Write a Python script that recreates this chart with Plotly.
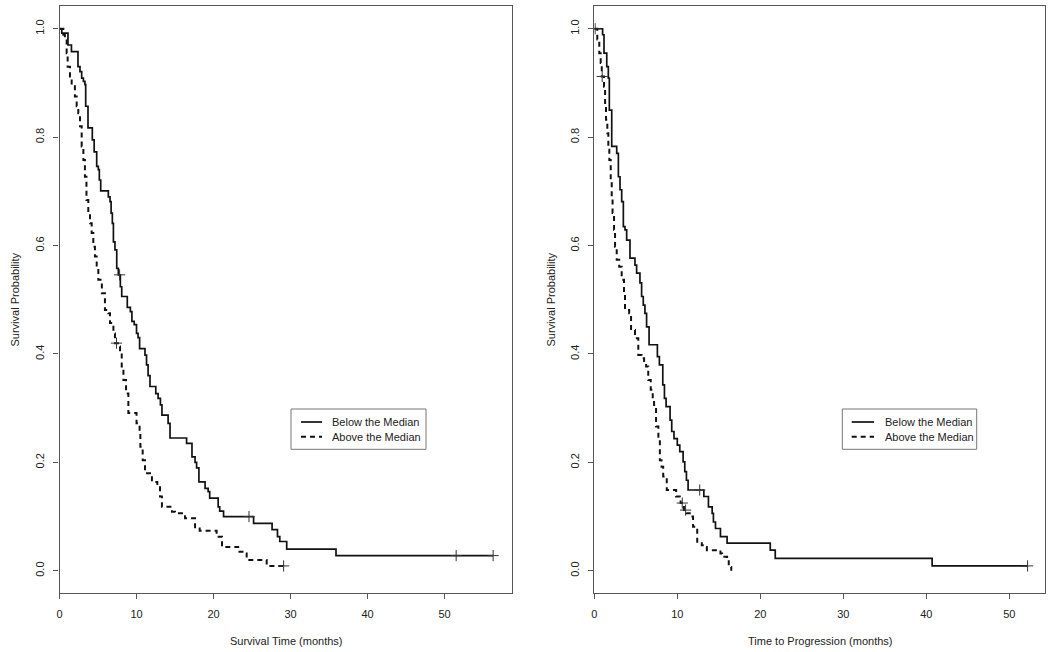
import plotly.graph_objects as go

# ---------------- data ----------------
# Left panel: overall survival, Kaplan-Meier step points (time in months, survival)
os_below_time = [0, 0.3, 1.1, 1.55, 2.4, 2.66, 2.88, 3.1, 3.3, 3.4, 3.7, 4.26, 4.5, 4.83, 5.04, 5.17,
                 5.35, 6.34, 6.56, 6.7, 6.86, 7.0, 7.2, 7.43, 7.64, 7.9, 8.08, 8.8, 9.2, 9.4, 9.7,
                 10.0, 10.2, 10.4, 11.1, 11.3, 11.5, 11.75, 12.5, 12.8, 13.1, 13.3, 14.1, 14.35,
                 16.5, 17.2, 17.6, 17.8, 18.1, 18.9, 19.3, 19.5, 20.6, 20.8, 21.3, 25.2, 27.6,
                 28.3, 28.6, 29.5, 35.9, 56.3]
os_below_surv = [1.0, 0.992, 0.97, 0.958, 0.93, 0.921, 0.909, 0.903, 0.897, 0.857, 0.817, 0.795,
                 0.773, 0.746, 0.74, 0.721, 0.701, 0.69, 0.681, 0.66, 0.641, 0.607, 0.592, 0.558,
                 0.546, 0.524, 0.506, 0.486, 0.478, 0.46, 0.454, 0.438, 0.43, 0.41, 0.398, 0.38,
                 0.36, 0.34, 0.327, 0.318, 0.306, 0.287, 0.272, 0.245, 0.235, 0.21, 0.2, 0.19,
                 0.164, 0.152, 0.146, 0.134, 0.118, 0.11, 0.1, 0.0875, 0.076, 0.063, 0.054, 0.04,
                 0.028, 0.028]
os_below_cens_time = [7.8, 24.6, 51.5, 56.3]
os_below_cens_surv = [0.546, 0.1, 0.028, 0.028]

os_above_time = [0, 0.5, 0.7, 0.93, 1.06, 1.36, 1.58, 2.0, 2.23, 2.44, 2.66, 2.88, 3.1, 3.3, 3.5,
                 3.74, 3.96, 4.18, 4.39, 4.6, 4.83, 5.04, 5.5, 5.9, 6.34, 6.56, 7.0, 7.2, 7.6, 7.86,
                 8.08, 8.3, 8.64, 8.94, 10.0, 10.4, 10.5, 10.8, 11.1, 12.0, 12.7, 13.05, 13.3, 14.6,
                 15.0, 16.3, 17.6, 18.2, 20.4, 21.1, 23.2, 23.9, 24.3, 26.9, 29.1]
os_above_surv = [1.0, 0.989, 0.98, 0.955, 0.93, 0.912, 0.897, 0.875, 0.857, 0.844, 0.82, 0.783,
                 0.758, 0.727, 0.684, 0.66, 0.641, 0.623, 0.598, 0.58, 0.561, 0.537, 0.512, 0.481,
                 0.475, 0.457, 0.438, 0.42, 0.414, 0.401, 0.377, 0.352, 0.327, 0.291, 0.272, 0.254,
                 0.229, 0.204, 0.18, 0.164, 0.158, 0.137, 0.118, 0.109, 0.106, 0.097, 0.078, 0.074,
                 0.063, 0.044, 0.035, 0.032, 0.02, 0.009, 0.009]
os_above_cens_time = [7.4, 29.1]
os_above_cens_surv = [0.42, 0.009]

# Right panel: time to progression
ttp_below_time = [0, 1.0, 1.17, 1.5, 1.69, 1.81, 2.1, 2.7, 2.9, 3.1, 3.3, 3.5, 3.7, 3.9, 4.3, 4.9,
                  5.1, 5.5, 5.7, 5.9, 6.1, 6.3, 6.6, 7.6, 7.84, 8.25, 8.45, 8.65, 9.13, 9.33, 9.6,
                  10.0, 10.3, 10.7, 10.9, 11.1, 11.3, 13.2, 13.75, 14.2, 14.35, 14.6, 15.2, 16.0,
                  21.2, 21.8, 40.7, 52.2]
ttp_below_surv = [1.0, 0.989, 0.955, 0.93, 0.909, 0.85, 0.783, 0.77, 0.727, 0.703, 0.681, 0.635,
                  0.629, 0.61, 0.577, 0.564, 0.549, 0.531, 0.506, 0.49, 0.475, 0.45, 0.417, 0.395,
                  0.38, 0.343, 0.318, 0.303, 0.278, 0.257, 0.244, 0.232, 0.22, 0.201, 0.183, 0.167,
                  0.149, 0.137, 0.118, 0.106, 0.09, 0.078, 0.063, 0.051, 0.038, 0.023, 0.009, 0.009]
ttp_below_cens_time = [0.1, 12.7, 52.2]
ttp_below_cens_surv = [1.0, 0.149, 0.009]

ttp_above_time = [0, 0.36, 0.6, 0.77, 0.9, 1.17, 1.3, 1.41, 1.57, 1.69, 1.81, 1.98, 2.1, 2.2, 2.38,
                  2.5, 2.7, 3.0, 3.3, 3.58, 3.7, 4.2, 4.43, 4.9, 5.3, 5.7, 6.0, 6.24, 6.5, 6.8, 7.04,
                  7.2, 7.44, 7.72, 7.9, 8.1, 8.3, 8.73, 9.86, 10.3, 10.4, 10.8, 11.1, 11.5, 11.9,
                  12.4, 12.95, 13.35, 13.56, 15.2, 15.4, 16.0, 16.2, 16.5]
ttp_above_surv = [1.0, 0.98, 0.955, 0.937, 0.912, 0.893, 0.857, 0.832, 0.807, 0.777, 0.758, 0.721,
                  0.69, 0.66, 0.629, 0.598, 0.574, 0.561, 0.537, 0.512, 0.481, 0.475, 0.444, 0.429,
                  0.398, 0.392, 0.383, 0.377, 0.352, 0.334, 0.318, 0.306, 0.266, 0.241, 0.204,
                  0.192, 0.174, 0.149, 0.137, 0.13, 0.125, 0.112, 0.106, 0.1, 0.081, 0.051, 0.047,
                  0.044, 0.038, 0.032, 0.026, 0.023, 0.007, 0.0]
ttp_above_cens_time = [0.95, 10.6, 11.0]
ttp_above_cens_surv = [0.912, 0.125, 0.112]

y_ticks = [0.0, 0.2, 0.4, 0.6, 0.8, 1.0]
y_tick_labels = ["0.0", "0.2", "0.4", "0.6", "0.8", "1.0"]
x_ticks = [0, 10, 20, 30, 40, 50]
legend_labels = ["Below the Median", "Above the Median"]
x_titles = ["Survival Time (months)", "Time to Progression (months)"]
y_title = "Survival Probability"

# ---------------- styling / layout ----------------
W, H = 1050, 652
FONT = "Liberation Sans, Arial, Helvetica, sans-serif"
TXT = "#222222"
BOX = "#555555"

def fx(p):
    return p / W

def fy(p):
    return 1 - p / H

fig = go.Figure()

solid = dict(shape="hv", color="#111111", width=1.7)
dashed = dict(shape="hv", color="#111111", width=2.0, dash="5px,4px")
cens = dict(symbol="cross-thin", size=8, line=dict(width=1, color="#333333"), color="#333333")

panels = [
    ("x", "y", os_below_time, os_below_surv, os_below_cens_time, os_below_cens_surv,
     os_above_time, os_above_surv, os_above_cens_time, os_above_cens_surv),
    ("x2", "y2", ttp_below_time, ttp_below_surv, ttp_below_cens_time, ttp_below_cens_surv,
     ttp_above_time, ttp_above_surv, ttp_above_cens_time, ttp_above_cens_surv),
]
for xa, ya, bt, bs, bct, bcs, at, as_, act, acs in panels:
    fig.add_trace(go.Scatter(x=at, y=as_, mode="lines", line=dashed, xaxis=xa, yaxis=ya,
                             name=legend_labels[1], showlegend=False, hoverinfo="skip"))
    fig.add_trace(go.Scatter(x=act, y=acs, mode="markers", marker=cens, xaxis=xa, yaxis=ya,
                             showlegend=False, hoverinfo="skip"))
    fig.add_trace(go.Scatter(x=bt, y=bs, mode="lines", line=solid, xaxis=xa, yaxis=ya,
                             name=legend_labels[0], showlegend=False, hoverinfo="skip"))
    fig.add_trace(go.Scatter(x=bct, y=bcs, mode="markers", marker=cens, xaxis=xa, yaxis=ya,
                             showlegend=False, hoverinfo="skip"))

common_x = dict(showgrid=False, zeroline=False, showline=True, mirror=True, linecolor=BOX,
                linewidth=1.2, ticks="outside", ticklen=5, tickcolor=BOX, tickwidth=1,
                tickvals=x_ticks, tickfont=dict(size=11, color=TXT, family=FONT),
                automargin=False, ticklabelstandoff=6)
common_y = dict(showgrid=False, zeroline=False, showline=True, mirror=True, linecolor=BOX,
                linewidth=1.2, ticks="outside", ticklen=5, tickcolor=BOX, tickwidth=1,
                tickvals=y_ticks, ticktext=y_tick_labels, tickangle=-90,
                tickfont=dict(size=11, color=TXT, family=FONT), automargin=False,
                ticklabelstandoff=5,
                range=[-0.041, 1.042], domain=[fy(593), fy(6)])

fig.update_layout(
    width=W, height=H,
    margin=dict(l=0, r=0, t=0, b=0),
    paper_bgcolor="white", plot_bgcolor="white",
    font=dict(family=FONT, size=11, color=TXT),
    showlegend=False,
    xaxis=dict(common_x, domain=[fx(59.5), fx(512)], range=[0, 58.75], anchor="y"),
    yaxis=dict(common_y, anchor="x"),
    xaxis2=dict(common_x, domain=[fx(594.3), fx(1045)], range=[0, 54.3], anchor="y2"),
    yaxis2=dict(common_y, anchor="x2"),
)

# axis titles
for cx, lab in [(286, x_titles[0]), (819.7, x_titles[1])]:
    fig.add_annotation(text=lab, x=fx(cx), y=fy(641), xref="paper", yref="paper",
                       showarrow=False, xanchor="center", yanchor="middle",
                       font=dict(size=11, color=TXT, family=FONT))
for cx in [14, 550]:
    fig.add_annotation(text=y_title, x=fx(cx), y=fy(299.5), xref="paper", yref="paper",
                       showarrow=False, textangle=-90, xanchor="center", yanchor="middle",
                       font=dict(size=11, color=TXT, family=FONT))

# legends (drawn as boxes with line samples and labels)
for bx0, bx1, lx0, lx1, tx in [(291, 426, 301, 322, 330), (842.3, 976.7, 851.7, 874, 883)]:
    fig.add_shape(type="rect", xref="paper", yref="paper", x0=fx(bx0), x1=fx(bx1),
                  y0=fy(449.3), y1=fy(409), line=dict(color="#777777", width=1),
                  fillcolor="white")
    for ly, dash, lab in [(422, "solid", legend_labels[0]), (436.7, "5px,4px", legend_labels[1])]:
        fig.add_shape(type="line", xref="paper", yref="paper", x0=fx(lx0), x1=fx(lx1),
                      y0=fy(ly), y1=fy(ly), line=dict(color="#111111", width=1.7 if dash == "solid" else 2, dash=dash))
        fig.add_annotation(text=lab, x=fx(tx), y=fy(ly), xref="paper", yref="paper",
                           showarrow=False, xanchor="left", yanchor="middle",
                           font=dict(size=11, color=TXT, family=FONT))

fig.write_html("out.html",
               config={"displayModeBar": False},
               post_script="document.body.style.margin='0px';document.body.style.overflow='hidden';")
